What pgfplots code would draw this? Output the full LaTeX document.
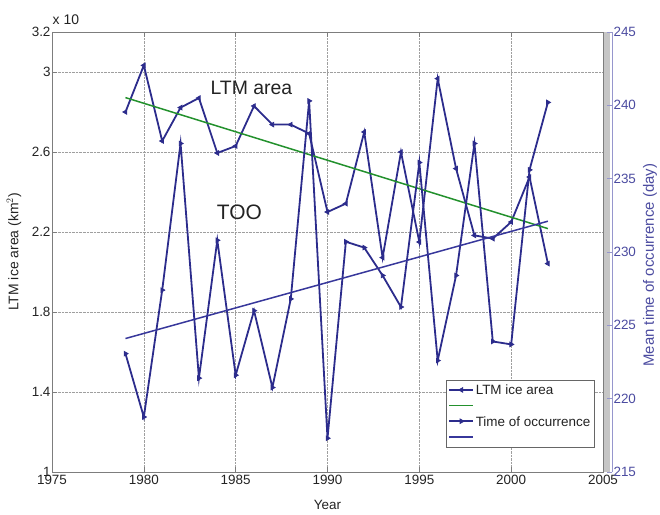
\documentclass[border=0pt]{standalone}
\usepackage{fontspec}
\setmainfont{Liberation Sans}
\usepackage{pgfplots}
\pgfplotsset{compat=1.18}
\definecolor{dblue}{RGB}{44,44,140}
\definecolor{rblue}{RGB}{75,75,160}
\definecolor{rline}{RGB}{150,150,205}
\definecolor{tgreen}{RGB}{35,145,45}
\definecolor{tblue}{RGB}{55,55,155}
\definecolor{framegray}{RGB}{125,125,125}
\definecolor{txt}{RGB}{35,35,35}

\pgfplotstableread{
year ltm
1979 2.800
1980 3.033
1981 2.655
1982 2.822
1983 2.870
1984 2.595
1985 2.630
1986 2.830
1987 2.737
1988 2.737
1989 2.692
1990 2.300
1991 2.342
1992 2.700
1993 2.072
1994 2.600
1995 2.150
1996 2.967
1997 2.517
1998 2.183
1999 2.167
2000 2.250
2001 2.475
2002 2.042
}\ltmdata

\pgfplotstableread{
year too
1979 223.07
1980 218.75
1981 227.40
1982 237.40
1983 221.40
1984 230.80
1985 221.60
1986 226.00
1987 220.76
1988 226.80
1989 240.30
1990 217.30
1991 230.70
1992 230.30
1993 228.40
1994 226.25
1995 236.10
1996 222.60
1997 228.40
1998 237.40
1999 223.90
2000 223.70
2001 235.60
2002 240.20
}\toodata

\begin{document}
\begin{tikzpicture}
\useasboundingbox (-52bp,-43bp) rectangle (608bp,472bp);
\fill[gray!45] (551bp,0bp) rectangle (558bp,440bp);
\begin{axis}[
  at={(0bp,0bp)}, anchor=south west,
  scale only axis, width=551bp, height=440bp,
  xmin=1975, xmax=2005, ymin=1, ymax=3.2,
  xtick={1975,1980,...,2005},
  ytick={1,1.4,1.8,2.2,2.6,3,3.2},
  ytick pos=left, xtick pos=both,
  tick align=inside, major tick length=5bp,
  grid=major, grid style={densely dotted, gray!75, line width=0.6bp},
  axis line style={framegray, line width=0.8bp},
  tick style={framegray, line width=0.6bp},
  /pgf/number format/assume math mode=true,
  xticklabel style={/pgf/number format/1000 sep={}, font=\fontsize{13.5}{16}\selectfont, text=txt},
  yticklabel style={font=\fontsize{13.5}{16}\selectfont, text=txt, xshift=2bp},
  xlabel={Year},
  every axis x label/.style={at={(axis description cs:0.5,-0.075)}, anchor=center, font=\fontsize{13.5}{16}\selectfont, text=txt},
  ylabel={LTM ice area (km$^2$)},
  every axis y label/.style={at={(axis description cs:-0.069,0.5)}, anchor=center, rotate=90, font=\fontsize{14}{16}\selectfont, text=txt},
]
\addplot[dblue, line width=1.8bp, mark=triangle*, mark size=2.6bp, mark options={rotate=90, solid, line width=0.8bp}] table[x=year, y=ltm] {\ltmdata};
\addplot[tgreen, line width=1.5bp] coordinates {(1979,2.872) (2002,2.217)};
\node[anchor=base, text=txt, font=\fontsize{19.5}{22}\selectfont] at (axis cs:1985.86,2.885) {LTM area};
\node[anchor=base, text=txt, font=\fontsize{21}{24}\selectfont] at (axis cs:1985.2,2.26) {TOO};
\end{axis}
\node[anchor=base west, text=txt, font=\fontsize{14}{16}\selectfont, inner sep=0pt] at (0.5bp,447bp) {x 10};
\begin{axis}[
  at={(0bp,0bp)}, anchor=south west,
  scale only axis, width=560bp, height=440bp,
  xmin=1975, xmax=2005.49, ymin=215, ymax=245,
  axis x line=none, axis y line*=right,
  ytick={215,220,...,245},
  tick align=inside, major tick length=5bp,
  y axis line style={rline, line width=0.9bp},
  ytick style={rline, line width=0.6bp},
  /pgf/number format/assume math mode=true,
  yticklabel style={font=\fontsize{13.5}{16}\selectfont, text=rblue, xshift=-2bp},
  ylabel={Mean time of occurrence (day)},
  every axis y label/.style={at={(axis description cs:1.068,0.47)}, anchor=center, rotate=90, font=\fontsize{15}{18}\selectfont, text=rblue},
  legend style={at={(0.968,0.057)}, anchor=south east, draw=gray!80!black, fill=white,
     font=\fontsize{13.5}{16}\selectfont, text=txt, row sep=0bp, inner sep=2bp,
     nodes={inner sep=1.5bp}, cells={anchor=west}},
  legend image code/.code={\draw[mark repeat=2,mark phase=2,#1] plot coordinates {(0bp,0bp) (12bp,0bp) (24bp,0bp)};},
]
\addlegendimage{dblue, line width=1.8bp, mark=triangle*, mark size=2.6bp, mark options={rotate=90, solid, line width=0.8bp}}
\addlegendentry{\strut LTM ice area}
\addlegendimage{tgreen, line width=1.5bp}
\addlegendentry{\strut}
\addplot[dblue, line width=1.8bp, mark=triangle*, mark size=2.6bp, mark options={rotate=-90, solid, line width=0.8bp}] table[x=year, y=too] {\toodata};
\addlegendentry{\strut Time of occurrence}
\addplot[tblue, line width=1.5bp] coordinates {(1979,224.1) (2002,232.1)};
\addlegendentry{\strut}
\end{axis}
\end{tikzpicture}
\end{document}
